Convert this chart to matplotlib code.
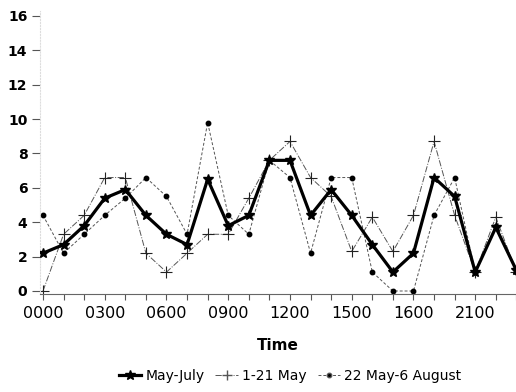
import matplotlib
matplotlib.use("Agg")
import matplotlib.pyplot as plt
from matplotlib.lines import Line2D

hours = list(range(24))
tick_positions = [0, 3, 6, 9, 12, 15, 18, 21]
tick_labels = ["0000", "0300", "0600", "0900", "1200", "1500", "1600", "2100"]

may_july = [2.2, 2.7, 3.8, 5.4, 5.9, 4.4, 3.3, 2.7, 6.5, 3.8, 4.4, 7.6,
            7.6, 4.4, 5.9, 4.4, 2.7, 1.1, 2.2, 6.6, 5.5, 1.1, 3.7, 1.2]
may_1_21 = [0.0, 3.3, 4.4, 6.6, 6.6, 2.2, 1.1, 2.2, 3.3, 3.3, 5.4, 7.6,
            8.7, 6.6, 5.5, 2.3, 4.3, 2.3, 4.4, 8.7, 4.4, 1.1, 4.3, 1.1]
may22_aug6 = [4.4, 2.2, 3.3, 4.4, 5.4, 6.6, 5.5, 3.3, 9.8, 4.4, 3.3, 7.6,
              6.6, 2.2, 6.6, 6.6, 1.1, 0.0, 0.0, 4.4, 6.6, 1.1, 3.8, 1.1]

W, H = 516, 392
fig = plt.figure(figsize=(W / 100, H / 100), dpi=100)
xa, xb = -0.15, 22.98
ya, yb = -0.15, 16.3
L = 43 - 0.15 * 20.6
R = L + (xb - xa) * 20.6
top_px = 291 - yb * 17.19
bot_px = 291 - ya * 17.19
ax = fig.add_axes([L / W, (H - bot_px) / H, (R - L) / W, (bot_px - top_px) / H])

ax.plot(hours, may22_aug6, color="#555555", lw=0.7, ls=(0, (3, 2)),
        marker="o", ms=3.2, mfc="black", mec="black", label="22 May-6 August", zorder=2)
ax.plot(hours, may_1_21, color="#555555", lw=0.7, ls="-.",
        marker="+", ms=8, mew=0.8, mec="#222222", label="1-21 May", zorder=2)
ax.plot(hours, may_july, color="black", lw=2.3, ls="-",
        marker="*", ms=7, mfc="black", mec="black", label="May-July", zorder=3)

ax.set_xlim(xa, xb)
ax.set_ylim(ya, yb)
ax.set_yticks([0, 2, 4, 6, 8, 10, 12, 14, 16])
ax.set_yticklabels(["0", "2", "4", "6", "8", "10", "12", "14", "16"],
                   fontsize=10, fontweight="bold")
ax.set_xticks(tick_positions)
ax.set_xticklabels(tick_labels, fontsize=11.5)
ax.set_xticks(hours, minor=True)
ax.tick_params(axis="x", which="both", length=4, width=0.8, color="#555555", pad=5)
ax.tick_params(axis="y", length=6, width=0.8, color="#555555", pad=3)

for s in ["top", "right"]:
    ax.spines[s].set_visible(False)
ax.spines["left"].set_color("#dddddd")
ax.spines["left"].set_linestyle(":")
ax.spines["bottom"].set_color("#666666")
ax.spines["bottom"].set_linewidth(0.8)

ax.set_xlabel("Time", fontsize=11, fontweight="bold", labelpad=12)

handles = [
    Line2D([], [], color="black", lw=2.3, marker="*", ms=7),
    Line2D([], [], color="#555555", lw=0.7, ls="-.", marker="+", ms=7),
    Line2D([], [], color="#555555", lw=0.7, ls=(0, (3, 2)), marker="o", ms=3.2, mfc="black"),
]
fig.legend(handles, ["May-July", "1-21 May", "22 May-6 August"],
           loc="center", bbox_to_anchor=(290 / W, (H - 376) / H), ncol=3,
           frameon=False, fontsize=10, handlelength=1.6, handletextpad=0.3,
           columnspacing=0.8)

fig.savefig("out.png", dpi=100)
